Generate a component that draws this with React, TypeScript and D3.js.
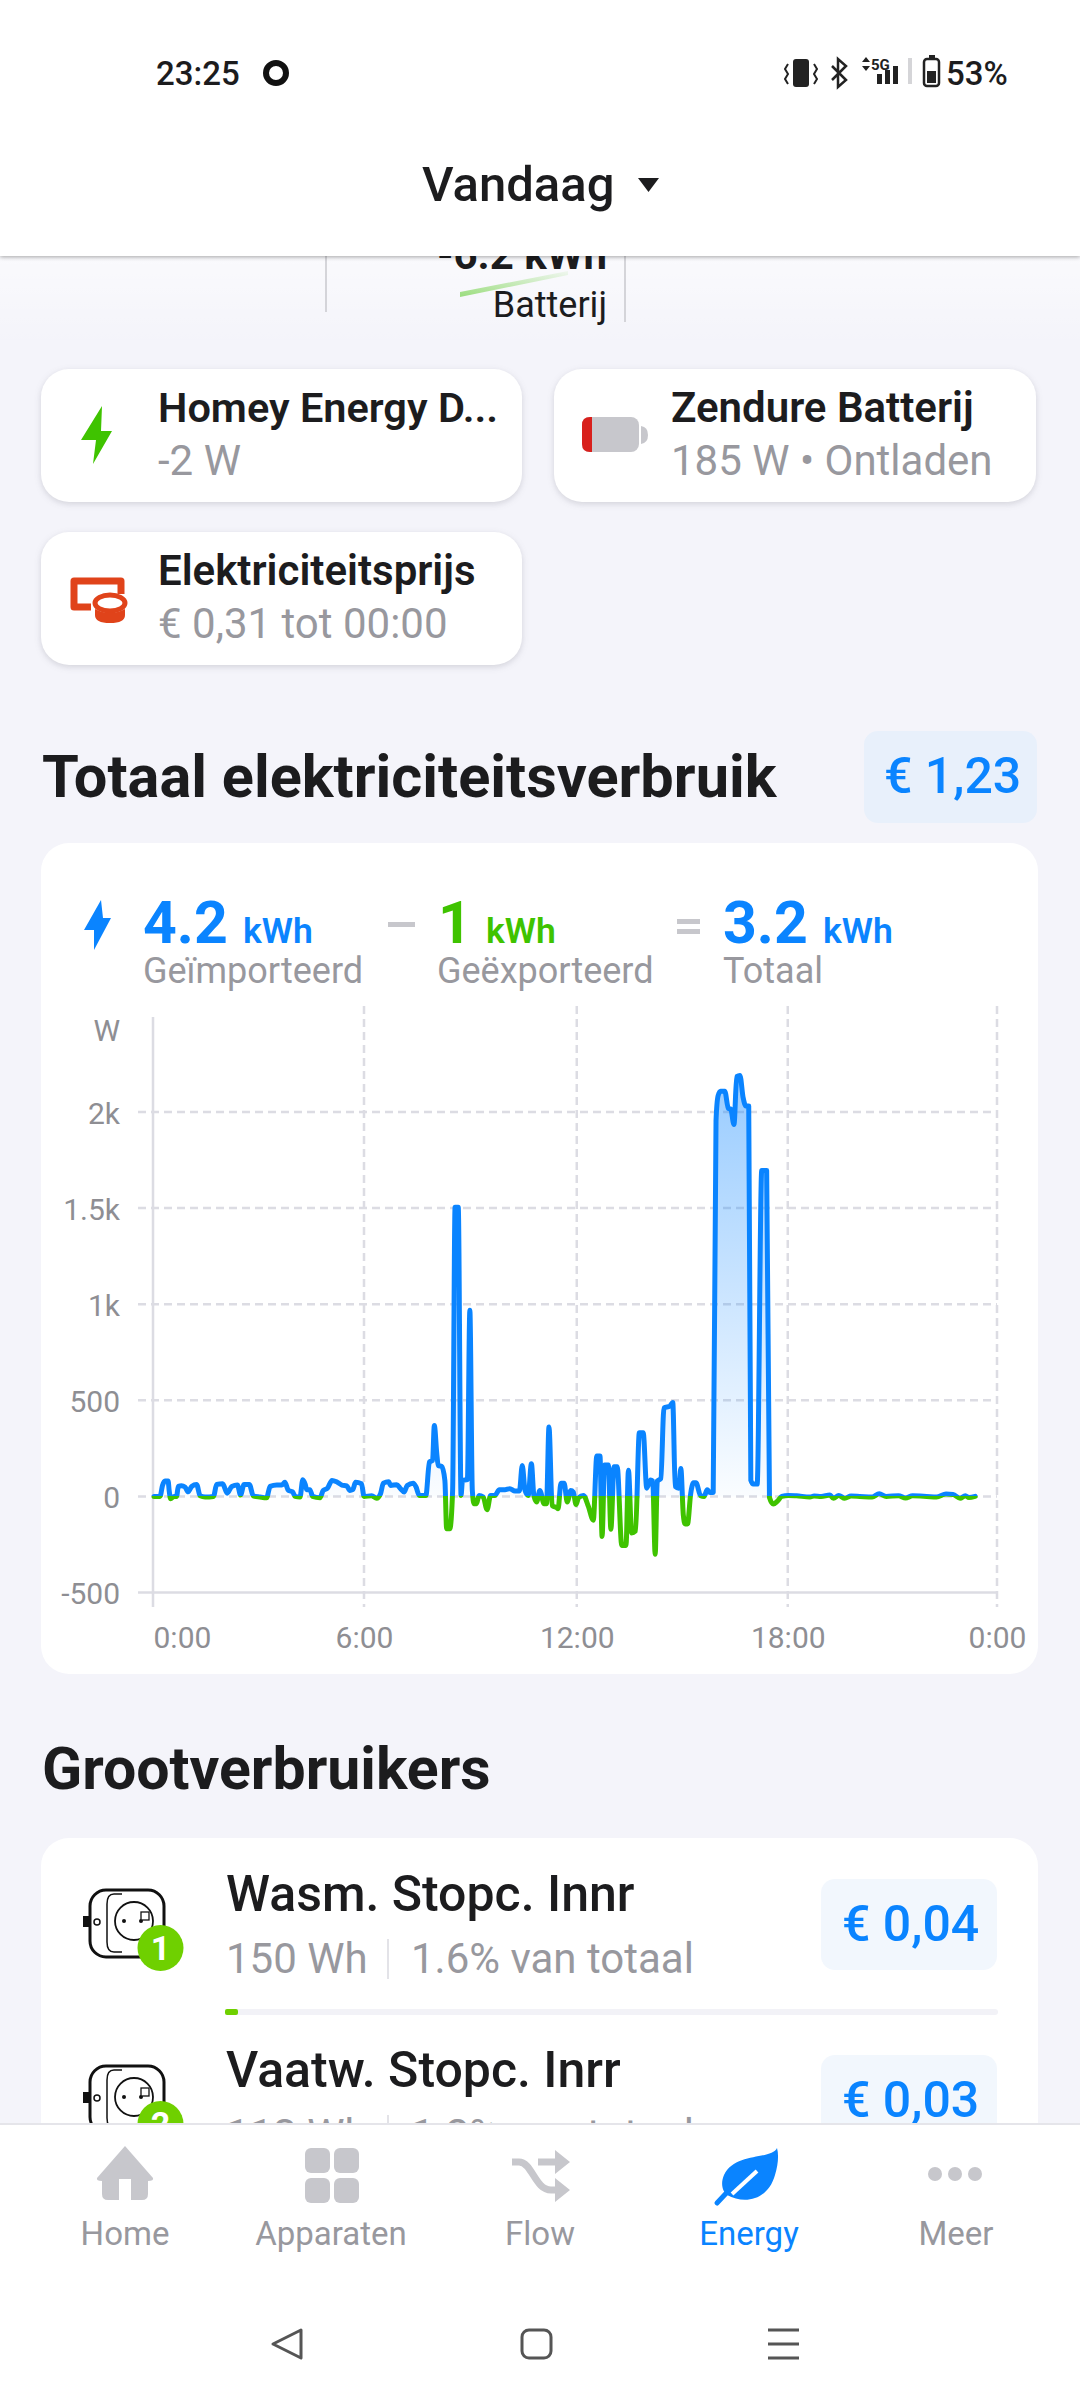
import React, { useEffect, useRef } from "react";
import * as d3 from "d3";

// values: hour of day and watts
const hours = [
  0.03, 0.2, 0.27, 0.34, 0.43, 0.46, 0.5, 0.6, 0.67, 0.72, 0.81, 0.91, 1.0, 1.1, 1.24, 1.34, 1.48, 1.72, 1.81, 1.98,
  2.11, 2.24, 2.4, 2.49, 2.59, 2.74, 2.85, 3.04, 3.23, 3.33, 3.52, 3.66, 3.75, 3.85, 3.97, 4.04, 4.18, 4.26, 4.33, 4.37,
  4.46, 4.54, 4.75, 4.84, 4.96, 5.09, 5.22, 5.37, 5.51, 5.6, 5.68, 5.76, 5.93, 6.0, 6.22, 6.36, 6.47, 6.55, 6.7, 6.76,
  6.93, 7.04, 7.14, 7.23, 7.4, 7.48, 7.57, 7.76, 7.86, 7.95, 8.0, 8.07, 8.11, 8.21, 8.3, 8.35, 8.44, 8.52, 8.59, 8.68,
  8.76, 8.8, 8.94, 9.01, 9.08, 9.13, 9.2, 9.27, 9.39, 9.5, 9.6, 9.72, 9.85, 10.01, 10.15, 10.29, 10.42, 10.5, 10.58, 10.67,
  10.76, 10.83, 10.91, 11.0, 11.12, 11.19, 11.26, 11.35, 11.48, 11.52, 11.6, 11.69, 11.78, 11.88, 11.95, 12.03, 12.1, 12.24, 12.38, 12.52,
  12.62, 12.71, 12.77, 12.84, 12.95, 13.02, 13.11, 13.2, 13.33, 13.45, 13.52, 13.61, 13.72, 13.83, 13.94, 14.04, 14.15, 14.21, 14.28, 14.34,
  14.44, 14.53, 14.7, 14.78, 14.85, 14.95, 15.01, 15.08, 15.13, 15.2, 15.29, 15.37, 15.44, 15.57, 15.67, 15.76, 15.84, 15.93, 16.01, 16.07,
  16.14, 16.26, 16.36, 16.43, 16.52, 16.6, 16.69, 16.78, 16.86, 16.94, 17.0, 17.07, 17.18, 17.31, 17.45, 17.53, 17.64, 17.75, 17.88, 18.07,
  18.3, 18.68, 18.8, 19.0, 19.25, 19.35, 19.5, 19.67, 19.85, 20.1, 20.45, 20.65, 20.85, 21.2, 21.4, 21.6, 22.0, 22.28, 22.55, 22.75,
  22.95, 23.1, 23.2, 23.38,
];
const watts = [
  0, 0, 57, 80, 80, 30, -12, 0, 0, 52, 55, 49, 24, 52, 62, 3, -3, 0, 62, 66,
  17, 52, 59, 7, 62, 62, 3, -3, -7, 52, 59, 59, 73, 31, 24, 0, -3, 87, 62, 35,
  35, 0, -7, 31, 42, 83, 76, 59, 55, 31, 35, 73, 66, 0, 3, -10, 14, 69, 76, 57,
  61, 40, 23, 57, 69, 49, 5, 5, 179, 187, 369, 222, 161, 156, 83, -168, -168, 30, 1505, 1505,
  5, 83, 87, 968, 31, -38, -38, 5, -3, -69, 5, 5, 35, 35, 40, 28, 28, 161, 31, 5,
  170, 5, -29, 31, -38, -38, 361, -47, -59, -64, 69, 69, -29, 31, 23, -42, -7, 5, -52, -124,
  210, 210, -208, 163, 163, -171, 154, 154, -255, -255, 136, -190, -180, 331, 331, 43, 85, 80, -301, 80,
  93, 461, 470, 489, 52, 43, 145, -97, -143, -143, 15, 71, 71, 4, 0, 34, 20, 20, 1955, 2085,
  2108, 2108, 2019, 2015, 1935, 2184, 2190, 2075, 2031, 2031, 84, 64, 64, 1696, 1696, -6, -40, -26, 0, 5,
  3, -3, 2, 0, 7, -10, 5, -10, 2, 0, -3, 14, 0, 3, -8, 3, 0, -3, 12, 10,
  -10, 4, -6, 0,
];
const yTicks = [-500, 0, 500, 1000, 1500, 2000];
// the app's gridlines sit a touch right of the exact hour around midday
const xTicks = [0, 6, 12.05, 18.05, 24];
const xTickLabels = ["0:00", "6:00", "12:00", "18:00", "0:00"];

const BLUE = "#0a84ff";
const GREEN = "#3fc300";
const GRID = "#dcdce3";
const MUTED = "#98989e";
const INK = "#1c1c1e";

const Chart = () => {
  const ref = useRef<SVGGElement | null>(null);

  useEffect(() => {
    if (!ref.current) return;
    const g = d3.select(ref.current);
    g.selectAll("*").remove();

    const left = 153;
    const right = 997;
    const x = d3.scaleLinear().domain([0, 24]).range([left, right]);
    const y = d3.scaleLinear().domain([-500, 2000]).range([1592.5, 1112]);

    const points = hours.map((h, i) => ({ h, w: watts[i] }));

    const defs = g.append("defs");
    const fade = defs
      .append("linearGradient")
      .attr("id", "usageFill")
      .attr("gradientUnits", "userSpaceOnUse")
      .attr("x1", 0)
      .attr("x2", 0)
      .attr("y1", y(2200))
      .attr("y2", y(0));
    fade.append("stop").attr("offset", 0).attr("stop-color", BLUE).attr("stop-opacity", 0.42);
    fade.append("stop").attr("offset", 1).attr("stop-color", BLUE).attr("stop-opacity", 0.02);

    const split = defs
      .append("linearGradient")
      .attr("id", "usageStroke")
      .attr("gradientUnits", "userSpaceOnUse")
      .attr("x1", 0)
      .attr("x2", 0)
      .attr("y1", y(2300))
      .attr("y2", y(-500));
    const zero = (y(0) - y(2300)) / (y(-500) - y(2300));
    split.append("stop").attr("offset", zero).attr("stop-color", BLUE);
    split.append("stop").attr("offset", zero).attr("stop-color", GREEN);

    // horizontal grid from the y axis, -500 is drawn solid
    const yAxis = g
      .append("g")
      .attr("transform", `translate(${left},0)`)
      .call(
        d3
          .axisLeft(y)
          .tickValues(yTicks)
          .tickSize(0)
          .tickPadding(33)
          .tickFormat((d) => {
            const v = +d;
            return Math.abs(v) >= 1000 ? `${v / 1000}k` : `${v}`;
          })
      );
    yAxis.select(".domain").remove();
    yAxis
      .selectAll("text")
      .attr("fill", "#8e8e93")
      .attr("font-size", 30)
      .attr("font-family", "Roboto")
      .attr("dy", "0.38em");

    g.selectAll("line.h")
      .data(yTicks)
      .join("line")
      .attr("class", "h")
      .attr("x1", 138)
      .attr("x2", right)
      .attr("y1", (d) => y(d))
      .attr("y2", (d) => y(d))
      .attr("stroke", GRID)
      .attr("stroke-width", 2.5)
      .attr("stroke-dasharray", (d) => (d === -500 ? null : "8 5"));

    // vertical grid
    g.selectAll("line.v")
      .data(xTicks)
      .join("line")
      .attr("class", "v")
      .attr("x1", (d) => x(d))
      .attr("x2", (d) => x(d))
      .attr("y1", (d) => (d === 0 ? 1017 : 1006))
      .attr("y2", 1607)
      .attr("stroke", GRID)
      .attr("stroke-width", 2.5)
      .attr("stroke-dasharray", (d) => (d === 0 ? null : "8 5"));

    const xAxis = g
      .append("g")
      .attr("transform", "translate(0,1618)")
      .call(
        d3
          .axisBottom(x)
          .tickValues(xTicks)
          .tickSize(0)
          .tickPadding(0)
          .tickFormat((_, i) => xTickLabels[i])
      );
    xAxis.select(".domain").remove();
    xAxis
      .selectAll("text")
      .attr("fill", "#8e8e93")
      .attr("font-size", 30)
      .attr("font-family", "Roboto")
      .attr("y", 30)
      .attr("dy", 0)
      .attr("text-anchor", (_, i) => (i === 0 ? "start" : "middle"));

    g.append("text")
      .attr("x", 120)
      .attr("y", 1041)
      .attr("text-anchor", "end")
      .attr("fill", "#8e8e93")
      .attr("font-size", 30)
      .attr("font-family", "Roboto")
      .text("W");

    const area = d3
      .area<{ h: number; w: number }>()
      .x((d) => x(d.h))
      .y0(y(0))
      .y1((d) => y(Math.max(0, d.w)))
      .curve(d3.curveMonotoneX);
    g.append("path").datum(points).attr("fill", "url(#usageFill)").attr("d", area);

    const line = d3
      .line<{ h: number; w: number }>()
      .x((d) => x(d.h))
      .y((d) => y(d.w))
      .curve(d3.curveMonotoneX);
    g.append("path")
      .datum(points)
      .attr("fill", "none")
      .attr("stroke", "url(#usageStroke)")
      .attr("stroke-width", 5)
      .attr("stroke-linejoin", "round")
      .attr("stroke-linecap", "round")
      .attr("d", line);
  }, []);

  return <g ref={ref} />;
};

const Socket = ({ y, badge }: { y: number; badge: string }) => (
  <g fill="none" stroke="#111">
    <rect x={90} y={y} width={74} height={67} rx={16} fill="#fff" strokeWidth={3} />
    <path d={`M122 ${y + 4} h-8 q-7 0 -7 10 v38 q0 10 7 10 h8`} strokeWidth={1.5} />
    <circle cx={134} cy={y + 31} r={19} fill="#fff" strokeWidth={1.8} />
    <circle cx={97} cy={y + 32} r={3} strokeWidth={1.5} />
    <rect x={83} y={y + 26} width={6} height={11} fill="#111" stroke="none" />
    <circle cx={124} cy={y + 31} r={2} fill="#111" stroke="none" />
    <circle cx={141} cy={y + 31} r={2} fill="#111" stroke="none" />
    <rect x={141} y={y + 22} width={8} height={8} fill="#fff" strokeWidth={1.3} />
    <circle cx={160.5} cy={y + 58} r={23} fill="#6fd000" stroke="none" />
    <text x={160.5} y={y + 70} textAnchor="middle" fontSize={34} fontWeight={700} fill="#fff" stroke="none">
      {badge}
    </text>
  </g>
);

const Card = ({ x, y, w, h, shadow }: { x: number; y: number; w: number; h: number; shadow?: boolean }) => (
  <rect
    x={x}
    y={y}
    width={w}
    height={h}
    rx={28}
    fill="#fff"
    style={shadow ? { filter: "drop-shadow(0 2px 3px rgba(60,60,80,0.18))" } : undefined}
  />
);

const App = () => (
  <svg
    width={1080}
    height={2400}
    viewBox="0 0 1080 2400"
    fontFamily="Roboto"
    style={{ position: "absolute", left: 0, top: 0, background: "#f4f4fa" }}
  >
    <defs>
      <linearGradient id="swoosh" x1="0" x2="1" y1="1" y2="0">
        <stop offset="0" stopColor="#3fc300" stopOpacity={0.5} />
        <stop offset="1" stopColor="#3fc300" stopOpacity={0.05} />
      </linearGradient>
      <linearGradient id="band" x1="0" x2="0" y1="0" y2="1">
        <stop offset="0" stopColor="#fff" stopOpacity={0.55} />
        <stop offset="1" stopColor="#fff" stopOpacity={0} />
      </linearGradient>
    </defs>

    {/* flow diagram scrolled under the header */}
    <rect x={0} y={256} width={1080} height={90} fill="url(#band)" />
    <line x1={326} x2={326} y1={256} y2={312} stroke="#c9c9ce" strokeWidth={1.5} />
    <line x1={625} x2={625} y1={256} y2={322} stroke="#c9c9ce" strokeWidth={1.5} />
    <text x={607} y={269} textAnchor="end" fontSize={42} fontWeight={700} fill={INK}>
      -6.2 kWh
    </text>
    <path d="M460 292 L568 271 L568 275 L460 297 Z" fill="url(#swoosh)" />
    <text x={607} y={317} textAnchor="end" fontSize={36} fill={INK}>
      Batterij
    </text>

    {/* header */}
    <rect x={0} y={0} width={1080} height={256} fill="#fff" style={{ filter: "drop-shadow(0 1px 2px rgba(0,0,0,0.35))" }} />
    <text x={156} y={85} fontSize={33} fontWeight={500} fill={INK}>
      23:25
    </text>
    <circle cx={276} cy={73} r={10} fill="none" stroke="#111" strokeWidth={6} />
    <g fill="#222">
      <rect x={793} y={59} width={16} height={28} rx={3} />
      <path d="M788 64 l-3 5 l3 5 l-3 5 l3 5 M814 64 l3 5 l-3 5 l3 5 l-3 5" fill="none" stroke="#222" strokeWidth={2} />
      <path d="M832 66 L846 80 L838 87 V59 L846 66 L832 80" fill="none" stroke="#222" strokeWidth={2.5} />
      <path d="M862 62 l4 -5 l4 5 Z M862 66 l4 5 l4 -5 Z" />
      <text x={871} y={70} fontSize={15} fontWeight={700}>5G</text>
      <rect x={877} y={74} width={5} height={10} />
      <rect x={885} y={70} width={5} height={14} />
      <rect x={893} y={66} width={5} height={18} />
      <rect x={908} y={58} width={4} height={26} fill="#d5d5d8" />
      <rect x={924} y={59} width={15} height={27} rx={3} fill="none" stroke="#222" strokeWidth={2.5} />
      <rect x={929} y={55} width={6} height={4} />
      <rect x={927} y={71} width={9} height={12} />
    </g>
    <text x={946} y={85} fontSize={33} fontWeight={500} fill={INK}>
      53%
    </text>
    <text x={422} y={201} fontSize={49} fontWeight={500} fill={INK}>
      Vandaag
    </text>
    <path d="M638 178 H659 L648.5 192 Z" fill={INK} />

    {/* device cards */}
    <Card x={41} y={369} w={481} h={133} shadow />
    <Card x={554} y={369} w={482} h={133} shadow />
    <Card x={41} y={532} w={481} h={133} shadow />
    <path d="M102 406 L81 440 L96 440 L93 464 L112 431 L101 431 Z" fill={GREEN} />
    <text x={158} y={422} fontSize={41.5} fontWeight={600} fill={INK}>
      Homey Energy D...
    </text>
    <text x={158} y={475} fontSize={42} fill={MUTED}>
      -2 W
    </text>
    <rect x={582} y={417} width={57} height={35} rx={8} fill="#c7c7cc" />
    <path d="M590 417 H592 V452 H590 Q582 452 582 444 V425 Q582 417 590 417 Z" fill="#d8201c" />
    <path d="M641 426 q7 1 7 9 q0 8 -7 9 Z" fill="#c7c7cc" />
    <text x={671} y={422} fontSize={42} fontWeight={600} fill={INK}>
      Zendure Batterij
    </text>
    <text x={671} y={475} fontSize={42} fill={MUTED}>
      185 W • Ontladen
    </text>
    <path d="M91 607 H74 V581 H121 V594" fill="none" stroke="#e0431a" strokeWidth={7} strokeLinejoin="round" />
    <ellipse cx={110} cy={603} rx={15} ry={8} fill="none" stroke="#e0431a" strokeWidth={5} />
    <path d="M95 609 v6 q0 8 15 8 q15 0 15 -8 v-6 q-15 8 -30 0 Z" fill="#e0431a" />
    <text x={158} y={585} fontSize={42} fontWeight={600} fill={INK}>
      Elektriciteitsprijs
    </text>
    <text x={158} y={638} fontSize={42} fill={MUTED}>
      € 0,31 tot 00:00
    </text>

    {/* total section */}
    <text x={42} y={797} fontSize={59.5} fontWeight={700} fill={INK}>
      Totaal elektriciteitsverbruik
    </text>
    <rect x={864} y={731} width={173} height={92} rx={14} fill="#e8f0fb" />
    <text x={884} y={793} fontSize={50} fontWeight={500} fill={BLUE}>
      € 1,23
    </text>
    <Card x={41} y={843} w={997} h={831} />
    <path d="M101 900 L84 930 L94 930 L94 950 L111 918 L103 918 Z" fill={BLUE} />
    <text x={143} y={943} fontSize={59} fontWeight={700} fill={BLUE}>4.2</text>
    <text x={243} y={943} fontSize={35.5} fontWeight={600} fill={BLUE}>kWh</text>
    <text x={143} y={983} fontSize={36} fill={MUTED}>Geïmporteerd</text>
    <rect x={388} y={922} width={27} height={5} fill="#c7c7cc" />
    <text x={438} y={943} fontSize={59} fontWeight={700} fill={GREEN}>1</text>
    <text x={486} y={943} fontSize={35.5} fontWeight={600} fill={GREEN}>kWh</text>
    <text x={437} y={983} fontSize={36} fill={MUTED}>Geëxporteerd</text>
    <rect x={677} y={919} width={23} height={5} fill="#c7c7cc" />
    <rect x={677} y={929} width={23} height={5} fill="#c7c7cc" />
    <text x={723} y={943} fontSize={59} fontWeight={700} fill={BLUE}>3.2</text>
    <text x={823} y={943} fontSize={35.5} fontWeight={600} fill={BLUE}>kWh</text>
    <text x={723} y={983} fontSize={36} fill={MUTED}>Totaal</text>

    <Chart />

    {/* top consumers */}
    <text x={42} y={1789} fontSize={59} fontWeight={700} fill={INK}>
      Grootverbruikers
    </text>
    <Card x={41} y={1838} w={997} h={400} />
    <Socket y={1890} badge="1" />
    <text x={226} y={1911} fontSize={50} fontWeight={500} fill={INK}>
      Wasm. Stopc. Innr
    </text>
    <text x={226} y={1973} fontSize={42} fill={MUTED}>
      150 Wh
    </text>
    <line x1={388} x2={388} y1={1939} y2={1979} stroke="#e3e3e8" strokeWidth={2} />
    <text x={411} y={1973} fontSize={42} fill={MUTED}>
      1.6% van totaal
    </text>
    <rect x={821} y={1879} width={176} height={91} rx={14} fill="#f2f7fd" />
    <text x={842} y={1941} fontSize={50} fontWeight={500} fill={BLUE}>
      € 0,04
    </text>
    <rect x={225} y={2009} width={773} height={6} rx={3} fill="#f2f2f7" />
    <rect x={225} y={2009} width={13} height={6} rx={2} fill="#6fd000" />

    <Socket y={2066} badge="2" />
    <text x={226} y={2087} fontSize={50} fontWeight={500} fill={INK}>
      Vaatw. Stopc. Inrr
    </text>
    <text x={226} y={2149} fontSize={42} fill={MUTED}>
      113 Wh
    </text>
    <line x1={388} x2={388} y1={2115} y2={2155} stroke="#e3e3e8" strokeWidth={2} />
    <text x={411} y={2149} fontSize={42} fill={MUTED}>
      1.2% van totaal
    </text>
    <rect x={821} y={2055} width={176} height={91} rx={14} fill="#f2f7fd" />
    <text x={842} y={2117} fontSize={50} fontWeight={500} fill={BLUE}>
      € 0,03
    </text>

    {/* bottom nav */}
    <rect x={0} y={2124} width={1080} height={276} fill="#fff" />
    <line x1={0} x2={1080} y1={2124} y2={2124} stroke="#e5e5ea" strokeWidth={2} />
    <path
      d="M125 2146 L153 2178 Q154 2181 148 2181 V2194 Q148 2200 142 2200 H131 V2179 H119 V2200 H108 Q102 2200 102 2194 V2181 Q96 2181 97 2178 Z"
      fill="#c7c7cc"
    />
    <g fill="#c7c7cc">
      <rect x={305} y={2148} width={25} height={25} rx={6} />
      <rect x={334} y={2148} width={25} height={25} rx={6} />
      <rect x={305} y={2178} width={25} height={25} rx={6} />
      <rect x={334} y={2178} width={25} height={25} rx={6} />
    </g>
    <path
      d="M512 2162 H519 C532 2162 535 2190 551 2190 H562 M538 2162 H562"
      fill="none"
      stroke="#c7c7cc"
      strokeWidth={7}
    />
    <path d="M555 2150 L570 2162 L555 2174 Z M555 2178 L570 2190 L555 2202 Z" fill="#c7c7cc" />
    <path
      d="M777 2148 C772 2160 735 2152 724 2175 C720 2184 723 2192 727 2195 C745 2205 768 2200 775 2175 C778 2165 779 2155 777 2148 Z"
      fill={BLUE}
    />
    <path d="M732 2194 L757 2171" stroke="#fff" strokeWidth={4} fill="none" />
    <path d="M717 2203 L732 2187" stroke={BLUE} strokeWidth={5} strokeLinecap="round" fill="none" />
    <circle cx={935} cy={2174} r={7} fill="#c7c7cc" />
    <circle cx={955} cy={2174} r={7} fill="#c7c7cc" />
    <circle cx={975} cy={2174} r={7} fill="#c7c7cc" />
    <g fontSize={33} textAnchor="middle" fill={MUTED}>
      <text x={125} y={2245}>Home</text>
      <text x={331} y={2245}>Apparaten</text>
      <text x={540} y={2245}>Flow</text>
      <text x={749} y={2245} fill={BLUE}>Energy</text>
      <text x={956} y={2245}>Meer</text>
    </g>

    {/* android buttons */}
    <path d="M301 2330 L273 2344 L301 2358 Z" fill="none" stroke="#555" strokeWidth={3} strokeLinejoin="round" />
    <rect x={522} y={2330} width={29} height={28} rx={7} fill="none" stroke="#555" strokeWidth={3} />
    <path d="M768 2330 H799 M768 2344 H799 M768 2358 H799" stroke="#555" strokeWidth={3} />
  </svg>
);

export default App;
